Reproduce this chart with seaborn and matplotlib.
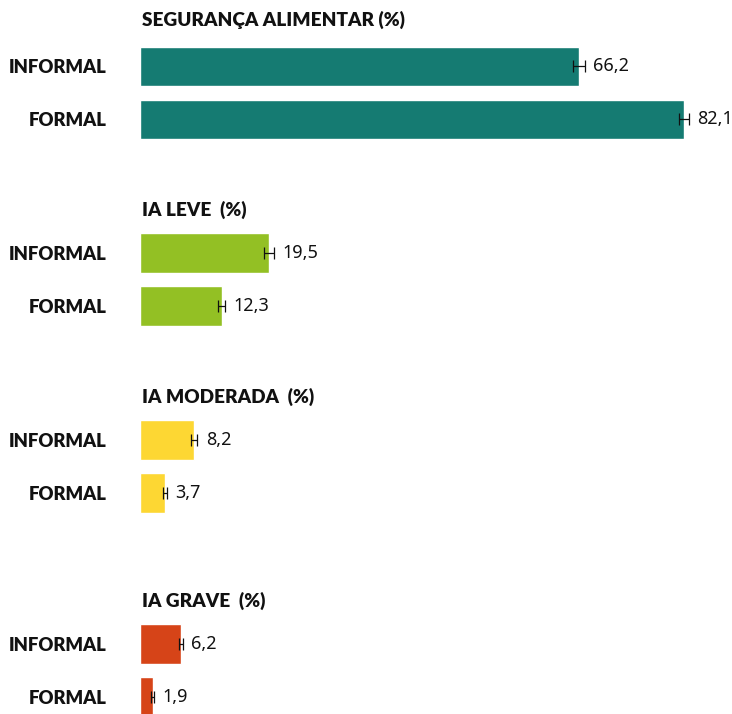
import matplotlib
matplotlib.use("Agg")
import matplotlib.pyplot as plt
import seaborn as sns
import pandas as pd

# dados
grupos = ["SEGURANÇA ALIMENTAR (%)", "IA LEVE  (%)", "IA MODERADA  (%)", "IA GRAVE  (%)"]
categorias = ["INFORMAL", "FORMAL"]
seguranca = [66.2, 82.1]
ia_leve = [19.5, 12.3]
ia_moderada = [8.2, 3.7]
ia_grave = [6.2, 1.9]
erro_seguranca = [0.9, 0.7]
erro_leve = [0.75, 0.6]
erro_moderada = [0.45, 0.3]
erro_grave = [0.3, 0.25]
cores = ["#157b72", "#93c024", "#fdd733", "#d64418"]

valores = [seguranca, ia_leve, ia_moderada, ia_grave]
erros = [erro_seguranca, erro_leve, erro_moderada, erro_grave]

sns.set_theme(style="white")
plt.rcParams["font.family"] = ["Lato", "DejaVu Sans"]

W, H = 732, 714
fig = plt.figure(figsize=(W / 100, H / 100), dpi=100)

# topo de cada painel (pixels) e distância do título
topos = [40, 226.5, 413.5, 617.5]
gap_titulo = [20, 16.5, 16.5, 16.5]
xmax = max(seguranca)

for i, grupo in enumerate(grupos):
    ax = fig.add_axes([140 / W, 1 - (topos[i] + 106) / H, (684 - 140) / W, 106 / H])
    df = pd.DataFrame({"cat": categorias, "val": valores[i]})
    sns.barplot(data=df, x="val", y="cat", color=cores[i], width=0.75,
                saturation=1, ax=ax, orient="h")
    ax.errorbar(valores[i], [0, 1], xerr=erros[i], fmt="none", ecolor="#111111",
                elinewidth=0.9, capsize=4.6, capthick=0.9, clip_on=False)
    for j, v in enumerate(valores[i]):
        ax.annotate(f"{v:.1f}".replace(".", ","), xy=(v + erros[i][j], j),
                    xytext=(6, 0), textcoords="offset points", va="center",
                    ha="left", fontsize=13, color="#111111",
                    family=["Noto Sans", "DejaVu Sans"], annotation_clip=False)
    ax.set_xlim(0, xmax)
    ax.set_ylim(1.5, -0.5)
    ax.set_xlabel("")
    ax.set_ylabel("")
    ax.set_xticks([])
    ax.tick_params(axis="y", length=0, pad=24)
    for lab in ax.get_yticklabels():
        lab.set_fontweight("heavy")
        lab.set_fontsize(13.3)
        lab.set_color("#111111")
    sns.despine(ax=ax, left=True, bottom=True)
    ax.set_facecolor("none")
    ax.annotate(grupo, xy=(0, 1), xycoords="axes fraction",
                xytext=(1.5, gap_titulo[i] * 0.72), textcoords="offset points",
                ha="left", va="center", fontsize=13.7, fontweight="heavy",
                color="#111111")

fig.savefig("out.png", dpi=100)
